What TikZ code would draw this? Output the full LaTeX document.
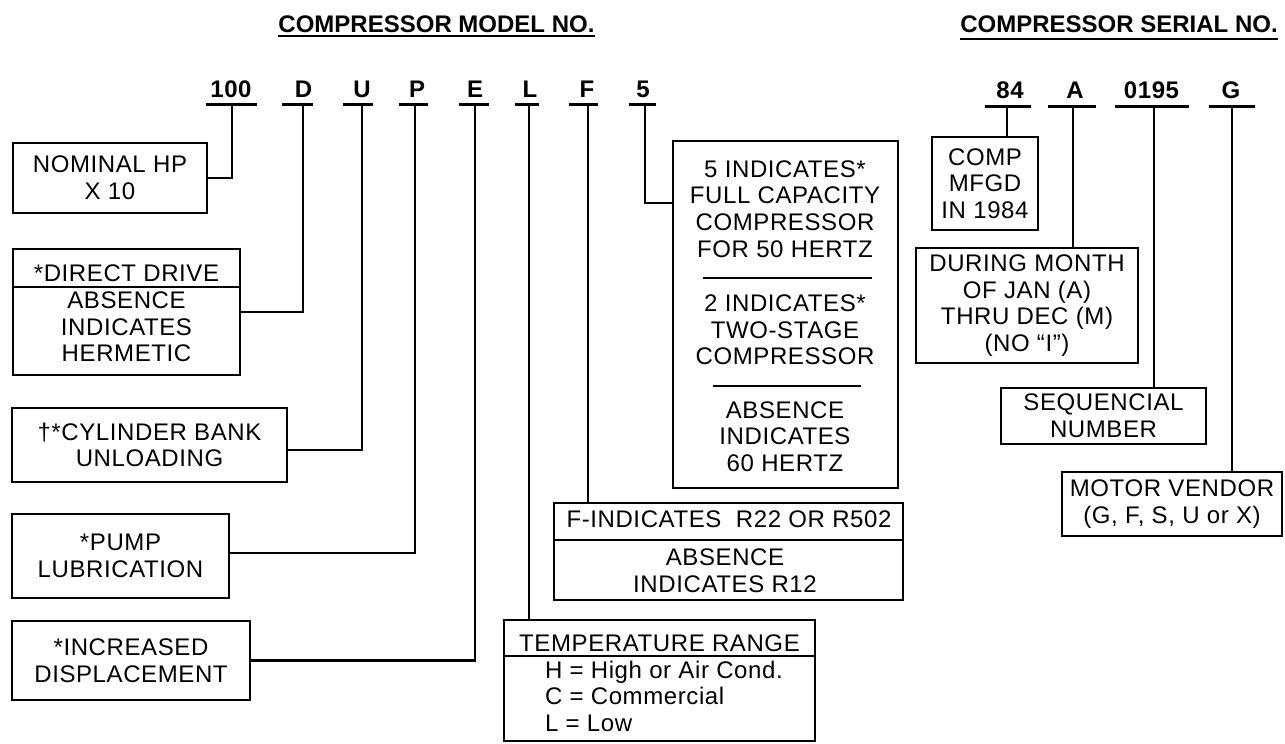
\documentclass[tikz,border=0pt]{standalone}
\usepackage{fontspec}
\setmainfont[LetterSpace=2.5]{Liberation Sans}
\newfontfamily\plainsans{Liberation Sans}
\begin{document}
\begin{tikzpicture}[x=1pt,y=-1pt,
  every node/.style={font=\fontsize{24}{26.6}\selectfont, inner sep=0pt, outer sep=0pt},
  box/.style={draw, line width=2.4pt, anchor=north west, align=center},
  code/.style={font=\fontsize{24}{26.6}\selectfont\bfseries, anchor=base},
  ttl/.style={font=\plainsans\fontsize{24}{26.6}\selectfont\bfseries, anchor=base},
  lead/.style={line width=2.6pt},
  bar/.style={line width=3pt},
  rule/.style={line width=2pt},
  grp/.style={align=center}]
\useasboundingbox (0,0) rectangle (1285,744);

% titles
\node[ttl] (mtitle) at (436.5,32) {COMPRESSOR MODEL NO.};
\draw[rule] ([yshift=-4pt]mtitle.base west) -- ([yshift=-4pt]mtitle.base east);
\node[ttl] (stitle) at (1119,32) {COMPRESSOR SERIAL NO.};
\draw[rule] ([yshift=-7pt]stitle.base west) -- ([yshift=-7pt]stitle.base east);

% model code letters
\node[code] (c100) at (231,97) {100};
\node[code] (cD) at (303.5,97) {D};
\node[code] (cU) at (362,97) {U};
\node[code] (cP) at (417,97) {P};
\node[code] (cE) at (475,97) {E};
\node[code] (cL) at (530,97) {L};
\node[code] (cF) at (587,97) {F};
\node[code] (c5) at (643,97) {5};
% serial code letters
\node[code] (c84) at (1010,98) {84};
\node[code] (cA) at (1075,98) {A};
\node[code] (c0195) at (1151.5,98) {0195};
\node[code] (cG) at (1231,98) {G};

% bar centres
\coordinate (k100) at (232,104);
\coordinate (kD) at (303,104);
\coordinate (kU) at (362,104);
\coordinate (kP) at (415,104);
\coordinate (kE) at (475,104);
\coordinate (kL) at (529,104);
\coordinate (kF) at (588,104);
\coordinate (k5) at (645,104);
\coordinate (k84) at (1007,106);
\coordinate (kA) at (1073,106);
\coordinate (k0195) at (1154,106);
\coordinate (kG) at (1232,106);

\draw[bar] ([xshift=-26pt]k100) -- ([xshift=25pt]k100);
\draw[bar] ([xshift=-21pt]kD) -- ([xshift=10pt]kD);
\draw[bar] ([xshift=-19pt]kU) -- ([xshift=11pt]kU);
\draw[bar] ([xshift=-16pt]kP) -- ([xshift=13pt]kP);
\draw[bar] ([xshift=-16pt]kE) -- ([xshift=14pt]kE);
\draw[bar] ([xshift=-14pt]kL) -- ([xshift=10pt]kL);
\draw[bar] ([xshift=-19pt]kF) -- ([xshift=10pt]kF);
\draw[bar] ([xshift=-16pt]k5) -- ([xshift=11pt]k5);
\draw[bar] ([xshift=-22pt]k84) -- ([xshift=24pt]k84);
\draw[bar] ([xshift=-25pt]kA) -- ([xshift=23pt]kA);
\draw[bar] ([xshift=-39pt]k0195) -- ([xshift=35pt]k0195);
\draw[bar] ([xshift=-23pt]kG) -- ([xshift=23pt]kG);

% left boxes
\node[box, minimum width=194pt, minimum height=70pt] (nominal) at (13,143) {NOMINAL HP\\X 10};
\node[box, minimum width=227pt, minimum height=126pt] (direct) at (13,249) {};
\draw[rule] (direct.west |- 0,287) -- (direct.east |- 0,287);
\node (dd1) at (126.5,273.5) {*DIRECT DRIVE};
\node[grp] (dd2) at (126.5,327) {ABSENCE\\INDICATES\\HERMETIC};
\node[box, minimum width=275pt, minimum height=74pt] (cyl) at (12,408) {\char"2020*CYLINDER BANK\\UNLOADING};
\node[box, minimum width=217pt, minimum height=84pt] (pump) at (12,514) {*PUMP\\LUBRICATION};
\node[box, minimum width=238pt, minimum height=79pt] (incr) at (12,621) {*INCREASED\\DISPLACEMENT};

% middle boxes
\node[box, minimum width=225pt, minimum height=347pt] (five) at (673,141) {};
\node[grp] (f1) at (785,209) {5 INDICATES*\\FULL CAPACITY\\COMPRESSOR\\FOR 50 HERTZ};
\draw[rule] (703,278) -- (872,278);
\node[grp] (f2) at (785,330) {2 INDICATES*\\TWO-STAGE\\COMPRESSOR};
\draw[rule] (713,386) -- (861,386);
\node[grp] (f3) at (785,436.7) {ABSENCE\\INDICATES\\60 HERTZ};

\node[box, minimum width=349pt, minimum height=97pt] (fbox) at (554,503) {};
\draw[rule] (fbox.west |- 0,540) -- (fbox.east |- 0,540);
\node (fb1) at (729,519) {F-INDICATES\ \ R22 OR R502};
\node[grp] (fb2) at (725,571) {ABSENCE\\INDICATES R12};

\node[box, minimum width=311pt, minimum height=121pt] (temp) at (504,620) {};
\draw[rule] (temp.west |- 0,656) -- (temp.east |- 0,656);
\node (tt) at (659.5,643.5) {TEMPERATURE RANGE};
\node[anchor=base west] (th) at (545,678) {H = High or Air Cond.};
\node[anchor=base west] (tc) at (545,704) {C = Commercial};
\node[anchor=base west] (tl) at (545,731) {L = Low};

% serial boxes
\node[box, minimum width=106pt, minimum height=93pt] (comp) at (932,137) {COMP\\MFGD\\IN 1984};
\node[box, minimum width=222pt, minimum height=115pt] (during) at (916,248) {DURING MONTH\\OF JAN (A)\\THRU DEC (M)\\(NO “I”)};
\node[box, minimum width=205pt, minimum height=56pt] (seq) at (1001,388) {SEQUENCIAL\\NUMBER};
\node[box, minimum width=220pt, minimum height=64pt] (motor) at (1062,472) {MOTOR VENDOR\\(G, F, S, U or X)};

% leaders
\draw[lead] (k100) |- (nominal.east);
\draw[lead] (kD) |- (direct.east);
\draw[lead] (kU) |- ([yshift=-5pt]cyl.east);
\draw[lead] (kP) |- ([yshift=3pt]pump.east);
\draw[lead] (kE) |- (incr.east);
\draw[lead] (kL) -- (kL |- temp.north);
\draw[lead] (kF) -- (kF |- fbox.north);
\draw[lead] (k5) |- ([yshift=-62pt]five.north west);
\draw[lead] (k84) -- (k84 |- comp.north);
\draw[lead] (kA) -- (kA |- during.north);
\draw[lead] (k0195) -- (k0195 |- seq.north);
\draw[lead] (kG) -- (kG |- motor.north);
\end{tikzpicture}
\end{document}
